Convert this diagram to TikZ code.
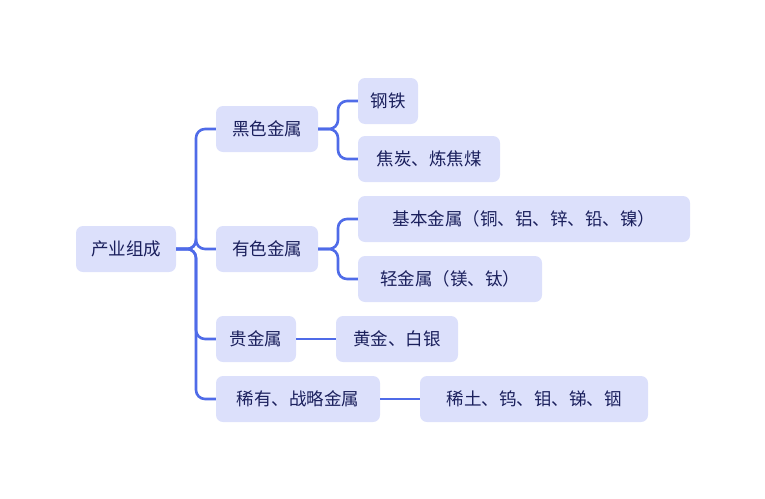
\documentclass[tikz,border=0pt]{standalone}
\usepackage{fontspec}
\newfontfamily\cjk{Noto Sans CJK SC}
\definecolor{boxfill}{HTML}{DCE0FB}
\definecolor{linec}{HTML}{4F6BE8}
\definecolor{txt}{HTML}{1A1F5C}
\begin{document}
\begin{tikzpicture}[x=1pt,y=-1pt,
  box/.style={fill=boxfill,rounded corners=7pt,minimum height=46pt,inner xsep=9pt,font=\cjk\fontsize{17.5}{20}\selectfont,text=txt,anchor=center},
  conn/.style={draw=linec,line width=2.6pt,rounded corners=9pt}]
\useasboundingbox (0,0) rectangle (765,498);
\node[box,minimum width=100pt] (root) at (126,249) {产业组成};
\node[box,minimum width=102pt] (hs) at (267,129) {黑色金属};
\node[box,minimum width=102pt] (ys) at (267,249) {有色金属};
\node[box,minimum width=80pt] (gj) at (256,339) {贵金属};
\node[box,minimum width=164pt] (xy) at (298,399) {稀有、战略金属};
\node[box,minimum width=60pt] (gt) at (388,101) {钢铁};
\node[box,minimum width=142pt] (jt) at (429,159) {焦炭、炼焦煤};
\node[box,minimum width=332pt] (jb) at (524,219) {基本金属（铜、铝、锌、铅、镍）};
\node[box,minimum width=184pt] (qj) at (450,279) {轻金属（镁、钛）};
\node[box,minimum width=122pt] (hj) at (397,339) {黄金、白银};
\node[box,minimum width=228pt] (xt) at (534,399) {稀土、钨、钼、锑、铟};
\coordinate (t1) at (196,249);
\coordinate (t2) at (338,129);
\coordinate (t3) at (338,249);
\begin{scope}[on background layer/.try]
\foreach \c in {hs,ys,gj,xy} \draw[conn] (root.east) -- (t1) |- (\c.west);
\foreach \c in {gt,jt} \draw[conn] (hs.east) -- (t2) |- (\c.west);
\foreach \c in {jb,qj} \draw[conn] (ys.east) -- (t3) |- (\c.west);
\draw[conn] (gj.east) -- (hj.west);
\draw[conn] (xy.east) -- (xt.west);
\end{scope}
\end{tikzpicture}
\end{document}
